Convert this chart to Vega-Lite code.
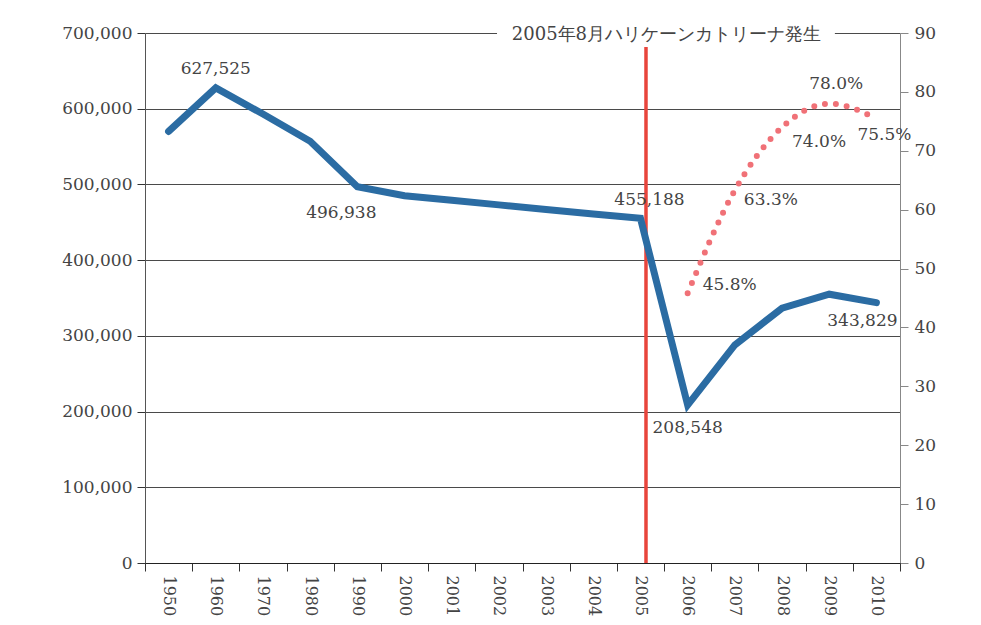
{
  "$schema": "https://vega.github.io/schema/vega-lite/v6.json",
  "width": 755,
  "height": 530,
  "autosize": {"type": "none"},
  "padding": {"left": 145, "top": 33, "right": 81, "bottom": 62},
  "background": "white",
  "config": {
    "view": {"stroke": null},
    "font": "DejaVu Serif",
    "axis": {"labelFont": "DejaVu Serif", "labelFontSize": 17, "labelColor": "#444", "titleFont": "DejaVu Serif"},
    "text": {"font": "DejaVu Serif", "fontSize": 17, "color": "#444"}
  },
  "datasets": {
    "pop": [
      {"year": "1950", "pop": 570000},
      {"year": "1960", "pop": 627525},
      {"year": "1970", "pop": 593000},
      {"year": "1980", "pop": 557000},
      {"year": "1990", "pop": 496938},
      {"year": "2000", "pop": 485000},
      {"year": "2001", "pop": 479000},
      {"year": "2002", "pop": 473000},
      {"year": "2003", "pop": 467000},
      {"year": "2004", "pop": 461000},
      {"year": "2005", "pop": 455188, "event": "2005年8月ハリケーンカトリーナ発生"},
      {"year": "2006", "pop": 208548},
      {"year": "2007", "pop": 288000},
      {"year": "2008", "pop": 336500},
      {"year": "2009", "pop": 355000},
      {"year": "2010", "pop": 343829}
    ],
    "rate": [
      {"year": "2006", "rate": 45.8, "label": "45.8%"},
      {"year": "2007", "rate": 63.3, "label": "63.3%"},
      {"year": "2008", "rate": 74.0, "label": "74.0%"},
      {"year": "2009", "rate": 78.0, "label": "78.0%"},
      {"year": "2010", "rate": 75.5, "label": "75.5%"}
    ]
  },
  "encoding": {
    "x": {
      "field": "year",
      "type": "ordinal",
      "sort": null,
      "scale": {
        "type": "band",
        "paddingInner": 0,
        "paddingOuter": 0,
        "domain": ["1950","1960","1970","1980","1990","2000","2001","2002","2003","2004","2005","2006","2007","2008","2009","2010"]
      },
      "axis": {
        "title": null,
        "tickBand": "extent",
        "labelAngle": 90,
        "labelFontSize": 16,
        "labelPadding": 4,
        "tickSize": 8,
        "tickColor": "#333",
        "domainColor": "#222",
        "grid": false
      }
    }
  },
  "layer": [
    {
      "data": {"name": "pop"},
      "encoding": {
        "y": {
          "field": "pop",
          "type": "quantitative",
          "scale": {"domain": [0, 700000], "nice": false, "zero": true},
          "axis": {
            "title": null,
            "values": [0,100000,200000,300000,400000,500000,600000,700000],
            "labelExpr": "format(datum.value, ',')",
            "grid": true,
            "gridColor": "#4a4a4a",
            "gridOpacity": 1,
            "gridWidth": 1,
            "tickSize": 8,
            "tickColor": "#333",
            "domainColor": "#555",
            "labelPadding": 5
          }
        }
      },
      "layer": [
        {
          "transform": [{"filter": "datum.year == '2005'"}],
          "mark": {"type": "rect", "color": "white"},
          "encoding": {
            "x": {"datum": "2002", "type": "ordinal", "bandPosition": 0.46},
            "x2": {"datum": "2009", "bandPosition": 0.62},
            "y": {"datum": 704000, "type": "quantitative"},
            "y2": {"datum": 696000}
          }
        },
        {
          "transform": [{"filter": "datum.year == '2005'"}],
          "mark": {"type": "text", "fontSize": 18, "fontWeight": "normal", "baseline": "middle", "align": "center", "dy": 2, "color": "#444"},
          "encoding": {
            "x": {"datum": "2006", "type": "ordinal", "bandPosition": 0.05},
            "y": {"datum": 700000, "type": "quantitative"},
            "text": {"field": "event"}
          }
        },
        {
          "transform": [{"filter": "datum.year == '2005'"}],
          "mark": {"type": "rule", "color": "#e8453c", "strokeWidth": 3.5},
          "encoding": {
            "x": {"datum": "2005", "type": "ordinal", "bandPosition": 0.617},
            "y": {"datum": 0, "type": "quantitative"},
            "y2": {"datum": 681500}
          }
        },
        {
          "mark": {"type": "line", "color": "#2b6ca3", "strokeWidth": 7, "strokeCap": "round", "strokeJoin": "miter"},
          "encoding": {}
        },
        {
          "transform": [{"filter": "datum.year == '1960'"}],
          "mark": {"type": "text", "dy": -19},
          "encoding": {"text": {"field": "pop", "type": "quantitative", "format": ","}}
        },
        {
          "transform": [{"filter": "datum.year == '1990'"}],
          "mark": {"type": "text", "dx": -16, "dy": 26},
          "encoding": {"text": {"field": "pop", "type": "quantitative", "format": ","}}
        },
        {
          "transform": [{"filter": "datum.year == '2005'"}],
          "mark": {"type": "text", "dx": 9, "dy": -18},
          "encoding": {"text": {"field": "pop", "type": "quantitative", "format": ","}}
        },
        {
          "transform": [{"filter": "datum.year == '2006'"}],
          "mark": {"type": "text", "dy": 23},
          "encoding": {"text": {"field": "pop", "type": "quantitative", "format": ","}}
        },
        {
          "transform": [{"filter": "datum.year == '2010'"}],
          "mark": {"type": "text", "dx": -14, "dy": 18},
          "encoding": {"text": {"field": "pop", "type": "quantitative", "format": ","}}
        }
      ]
    },
    {
      "data": {"name": "rate"},
      "encoding": {
        "y": {
          "field": "rate",
          "type": "quantitative",
          "scale": {"domain": [0, 90], "nice": false},
          "axis": {
            "orient": "right",
            "title": null,
            "values": [0,10,20,30,40,50,60,70,80,90],
            "grid": false,
            "tickSize": 8,
            "tickColor": "#888",
            "domainColor": "#888",
            "labelPadding": 6
          }
        }
      },
      "layer": [
        {
          "mark": {"type": "line", "color": "#f07177", "strokeWidth": 6, "strokeCap": "round", "strokeDash": [0, 11], "interpolate": "monotone"},
          "encoding": {}
        },
        {
          "transform": [{"filter": "datum.year == '2006'"}],
          "mark": {"type": "text", "align": "left", "dx": 15, "dy": -8},
          "encoding": {"text": {"field": "label"}}
        },
        {
          "transform": [{"filter": "datum.year == '2007'"}],
          "mark": {"type": "text", "align": "left", "dx": 9, "dy": 10},
          "encoding": {"text": {"field": "label"}}
        },
        {
          "transform": [{"filter": "datum.year == '2008'"}],
          "mark": {"type": "text", "dx": 37, "dy": 15},
          "encoding": {"text": {"field": "label"}}
        },
        {
          "transform": [{"filter": "datum.year == '2009'"}],
          "mark": {"type": "text", "dx": 7, "dy": -20},
          "encoding": {"text": {"field": "label"}}
        },
        {
          "transform": [{"filter": "datum.year == '2010'"}],
          "mark": {"type": "text", "dx": 8, "dy": 17},
          "encoding": {"text": {"field": "label"}}
        }
      ]
    }
  ],
  "resolve": {"scale": {"y": "independent"}}
}
